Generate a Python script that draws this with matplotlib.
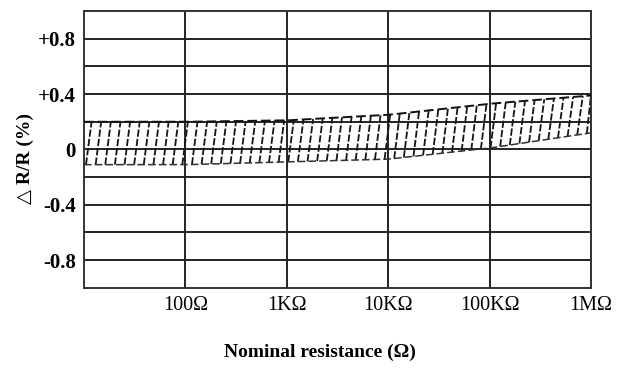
import matplotlib
matplotlib.use("Agg")
import matplotlib.pyplot as plt
import numpy as np

# band edges (resistance in ohm, dR/R in %)
r_pts = [10, 100, 1e3, 1e4, 1e5, 1e6]
upper = [0.20, 0.20, 0.21, 0.25, 0.33, 0.39]
lower = [-0.11, -0.11, -0.09, -0.07, 0.01, 0.12]

x_ticks = [100, 1e3, 1e4, 1e5, 1e6]
x_labels = ["100Ω", "1KΩ", "10KΩ", "100KΩ", "1MΩ"]
y_ticks = [0.8, 0.4, 0, -0.4, -0.8]
y_labels = ["+0.8", "+0.4", "0", "-0.4", "-0.8"]

plt.rcParams['font.family'] = ['Liberation Serif', 'DejaVu Serif']

fig = plt.figure(figsize=(6.22, 3.69), dpi=100)
ax = fig.add_axes([0.135, 0.22, 0.815, 0.75])
ax.set_xscale('log')
ax.set_xlim(10, 1e6)
ax.set_ylim(-1.0, 1.0)

# grid
gc = '#222222'
for yv in np.arange(-0.8, 0.81, 0.2):
    ax.axhline(yv, color=gc, lw=1.4, zorder=1)
for xv in x_ticks:
    ax.axvline(xv, color=gc, lw=1.4, zorder=1)

# band edges
lx = np.log10(r_pts)
xs = np.linspace(1, 6, 200)
up = np.interp(xs, lx, upper)
lo = np.interp(xs, lx, lower)
ax.plot(10 ** xs, up, color='#111111', lw=1.4, ls=(0, (5, 2)), zorder=3)
ax.plot(10 ** xs, lo, color='#333333', lw=1.1, ls=(0, (5, 2)), zorder=3)

# steep dashed hatch
for x0 in np.arange(1.02, 5.98, 0.095):
    x1 = min(x0 + 0.055, 6.0)
    y0 = np.interp(x0, lx, lower)
    y1 = np.interp(x1, lx, upper)
    ax.plot([10 ** x0, 10 ** x1], [y0, y1], color='#151515', lw=1.3,
            ls=(0, (4, 1.2)), zorder=2)

for s in ax.spines.values():
    s.set_color('#333333')
    s.set_linewidth(1.4)

ax.set_xticks(x_ticks)
ax.set_xticklabels(x_labels, fontsize=14.5)
ax.xaxis.set_minor_locator(matplotlib.ticker.NullLocator())
ax.set_yticks(y_ticks)
ax.set_yticklabels(y_labels, fontsize=15, fontweight='bold')
ax.tick_params(length=0, pad=6)

fig.text(0.515, 0.045, "Nominal resistance (Ω)", ha='center', va='center',
         fontsize=14, fontweight='bold')
fig.text(0.04, 0.57, "△ R/R (%)", ha='center', va='center', rotation=90,
         fontsize=14, fontweight='bold', family=['Liberation Serif', 'DejaVu Sans'])

fig.savefig("out.png", dpi=100)
